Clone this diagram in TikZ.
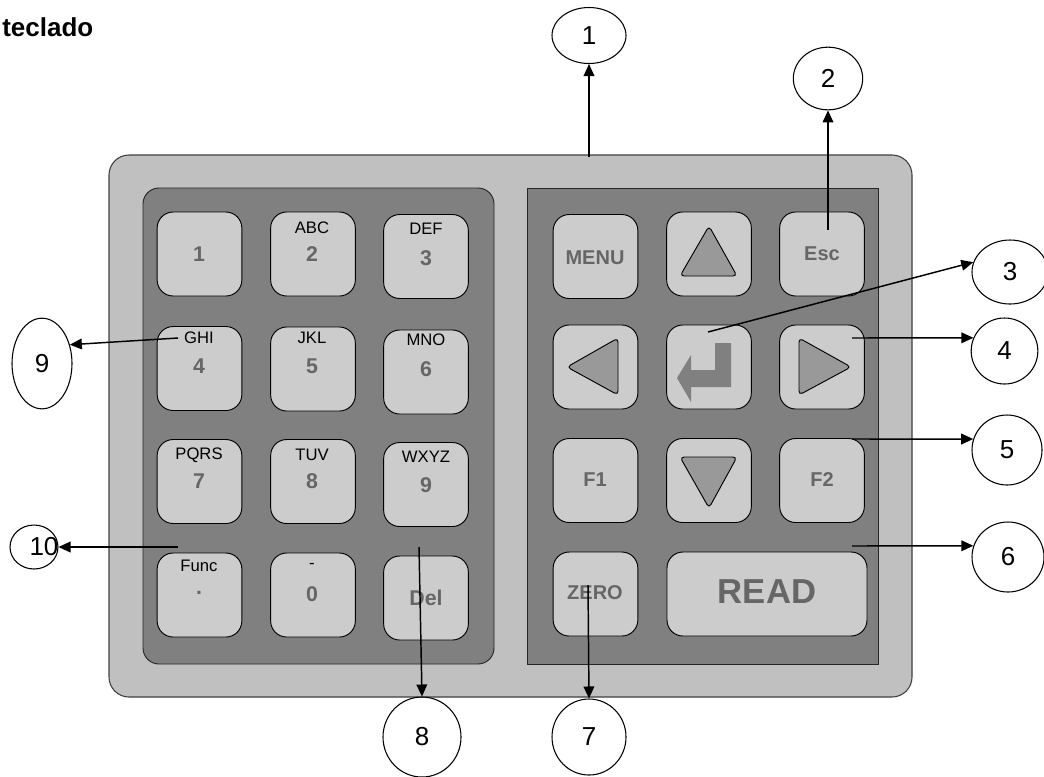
\documentclass[tikz,border=0pt]{standalone}
\usepackage{fontspec}
\setmainfont{Liberation Sans}
\usetikzlibrary{shapes.geometric,arrows.meta}
\definecolor{outerg}{HTML}{C0C0C0}
\definecolor{paneld}{HTML}{808080}
\definecolor{keyg}{HTML}{CCCCCC}
\definecolor{triag}{HTML}{999999}
\definecolor{keytxt}{HTML}{666666}
\begin{document}
\begin{tikzpicture}[x=0.75pt,y=-0.75pt,
 keybox/.style={draw=black, line width=0.7pt, fill=keyg, rounded corners=12pt, inner sep=0pt, minimum width=63.5pt, minimum height=63pt},
 small/.style={font=\fontsize{12.5}{14}\selectfont, text=black, inner sep=0pt},
 big/.style={font=\fontsize{16}{18}\selectfont\bfseries, text=keytxt, inner sep=0pt},
 callout/.style={draw=black, line width=0.8pt, ellipse, inner sep=0pt, font=\fontsize{19.5}{21}\selectfont},
 arr/.style={line width=1.1pt, -{Triangle[length=9pt,width=8pt]}},
 tri/.style={draw=black, line width=0.7pt, fill=triag, rounded corners=3pt}]
\useasboundingbox (0,0) rectangle (1044,776);

% title
\node[anchor=west, font=\fontsize{19.5}{21}\selectfont\bfseries, inner sep=0pt] (title) at (2,27) {teclado};

% housing
\draw[fill=outerg, draw=black!75, line width=0.8pt, rounded corners=15pt] (109,155) rectangle (912,697);
\draw[fill=paneld, draw=black!85, line width=0.7pt, rounded corners=12pt] (143,188) rectangle (494,664);
\draw[fill=paneld, draw=black!85, line width=0.7pt] (527,188) rectangle (878,664);

% numeric keys
\node[keybox] (k1) at (199.5,254) {};
\node[keybox] (k2) at (313,254) {};
\node[keybox] (k3) at (426,256.5) {};
\node[keybox] (k4) at (199.5,368.5) {};
\node[keybox] (k5) at (313,369) {};
\node[keybox] (k6) at (426,372) {};
\node[keybox] (k7) at (199.5,481.5) {};
\node[keybox] (k8) at (313,481.5) {};
\node[keybox] (k9) at (426,484.5) {};
\node[keybox] (k10) at (199.5,595) {};
\node[keybox] (k11) at (313,595) {};
\node[keybox] (k12) at (426,598) {};

\node[big] (d1) at (199,254) {1};
\node[small] (l2) at (312,228) {ABC}; \node[big] (d2) at (312,254) {2};
\node[small] (l3) at (426,229) {DEF}; \node[big] (d3) at (426,258) {3};
\node[small] (l4) at (199,338) {GHI}; \node[big] (d4) at (199,366) {4};
\node[small] (l5) at (312,338) {JKL}; \node[big] (d5) at (312,366) {5};
\node[small] (l6) at (426,340) {MNO}; \node[big] (d6) at (426,369) {6};
\node[small] (l7) at (199,455) {PQRS}; \node[big] (d7) at (199,481) {7};
\node[small] (l8) at (312,455) {TUV}; \node[big] (d8) at (312,481) {8};
\node[small] (l9) at (426,457) {WXYZ}; \node[big] (d9) at (426,485) {9};
\node[small] (l10) at (199,566) {Func}; \node[big] (d10) at (199,593) {.};
\node[small] (l11) at (312,566) {-}; \node[big] (d11) at (312,594) {0};
\node[big] (d12) at (426,598) {Del};

% function keys
\node[keybox] (menu) at (595.5,256.5) {};
\node[keybox] (up) at (709,254) {};
\node[keybox] (esc) at (822,254) {};
\node[keybox] (left) at (595.5,367) {};
\node[keybox] (enter) at (709,367) {};
\node[keybox] (right) at (822,367) {};
\node[keybox] (f1) at (595.5,480.5) {};
\node[keybox] (down) at (709,480.5) {};
\node[keybox] (f2) at (822,480.5) {};
\node[keybox] (zero) at (595.5,594) {};
\node[keybox, minimum width=150pt] (read) at (767,594) {};

\node[big, font=\fontsize{15}{17}\selectfont\bfseries] (tmenu) at (595,258) {MENU};
\node[big, font=\fontsize{15}{17}\selectfont\bfseries] (tesc) at (822,254) {Esc};
\node[big, font=\fontsize{15}{17}\selectfont\bfseries] (tf1) at (595,480) {F1};
\node[big, font=\fontsize{15}{17}\selectfont\bfseries] (tf2) at (822,480) {F2};
\node[big, font=\fontsize{15}{17}\selectfont\bfseries] (tzero) at (595,593) {ZERO};
\node[font=\fontsize{26}{28}\selectfont\bfseries, text=keytxt, inner sep=0pt] (tread) at (767,592) {READ};

% arrow glyphs
\draw[tri] (709,226) -- (737,276) -- (680,276) -- cycle;
\draw[tri] (680,457) -- (737,457) -- (709,508) -- cycle;
\draw[tri] (567,367) -- (618,338) -- (618,395) -- cycle;
\draw[tri] (799,338) -- (851,367) -- (799,395) -- cycle;
\fill[paneld] (715,343) -- (731,343) -- (731,387) -- (691,387) -- (691,402) -- (677,378) -- (691,355) -- (691,370) -- (715,370) -- cycle;

% callouts
\node[callout, minimum width=55.5pt, minimum height=42pt] (c1) at (589,35.5) {1};
\node[callout, minimum width=52pt, minimum height=47pt] (c2) at (828,78.5) {2};
\node[callout, minimum width=57pt, minimum height=48pt] (c3) at (1010,272) {3};
\node[callout, minimum width=50pt, minimum height=49.5pt] (c4) at (1004.5,351) {4};
\node[callout, minimum width=52.5pt, minimum height=52.5pt] (c5) at (1007,450) {5};
\node[callout, minimum width=54pt, minimum height=52.5pt] (c6) at (1008,557) {6};
\node[callout, minimum width=55.5pt, minimum height=57pt] (c7) at (589,737) {7};
\node[callout, minimum width=58.5pt, minimum height=60pt] (c8) at (422,737) {8};
\node[callout, minimum width=45pt, minimum height=68pt] (c9) at (42,363.5) {9};
\node[callout, minimum width=36pt, minimum height=33pt] (c10) at (34,547) {};
\node[font=\fontsize{19.5}{21}\selectfont, inner sep=0pt] (t10) at (44,547) {10};

% connector start points
\coordinate (a1) at (589,157);
\coordinate (a2) at (828,230);
\coordinate (a3) at (708,332);
\coordinate (a4) at (852,338);
\coordinate (a5) at (852,439);
\coordinate (a6) at (852,546);
\coordinate (a7) at (588,585);
\coordinate (a8) at (419,547);
\coordinate (a9) at (178,338);
\coordinate (a10) at (178,547);

\draw[arr] (a1) -- (c1.south);
\draw[arr] (a2) -- (c2.south);
\draw[arr] (a3) -- (c3.165);
\draw[arr] (a4) -- (c4.157);
\draw[arr] (a5) -- (c5.162);
\draw[arr] (a6) -- (c6.162);
\draw[arr] (a7) -- (c7.north);
\draw[arr] (a8) -- (c8.north);
\draw[arr] (a9) -- (c9.34);
\draw[arr] (a10) -- (c10.east);
\end{tikzpicture}
\end{document}
